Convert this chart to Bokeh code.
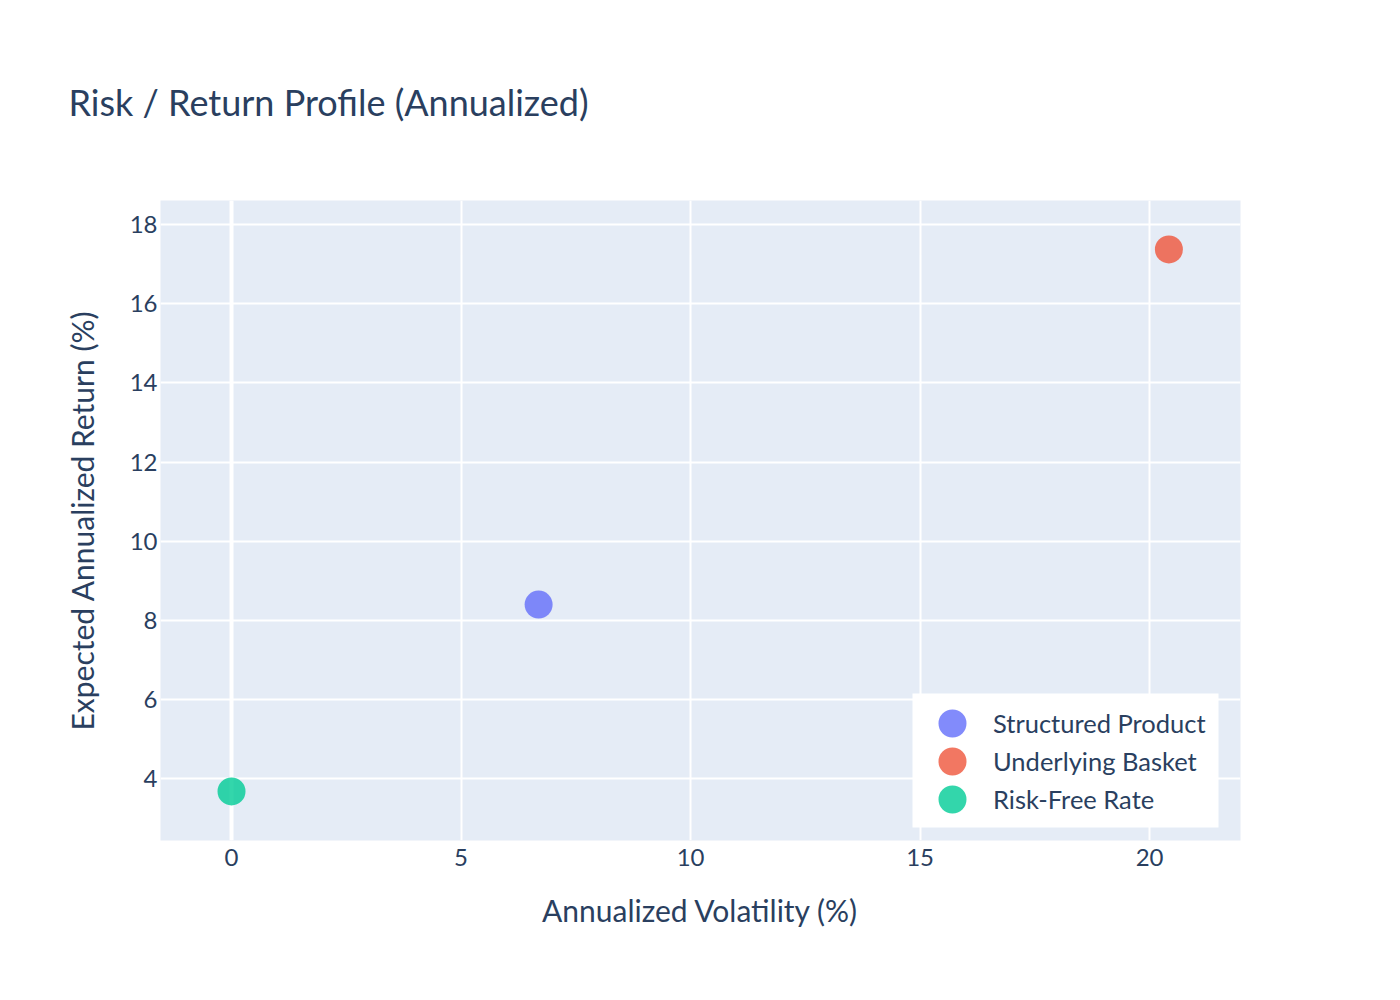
from bokeh.plotting import figure
from bokeh.models import (ColumnDataSource, Range1d, SingleIntervalTicker, Span, Title,
                          Legend, LegendItem, BoxAnnotation)
from bokeh.embed import file_html
from bokeh.resources import INLINE

# data
names = ["Structured Product", "Underlying Basket", "Risk-Free Rate"]
volatility = [6.69, 20.42, 0.0]
returns = [8.40, 17.37, 3.68]
colors = ["#636efa", "#EF553B", "#00cc96"]

FONT = "Lato"
TEXT = "#2a3f5f"

p = figure(width=1384, height=984,
           x_range=Range1d(-1.547, 21.98), y_range=Range1d(2.44, 18.607),
           output_backend="svg", toolbar_location=None, tools="",
           min_border_left=160, min_border_right=144,
           min_border_top=200, min_border_bottom=144)

p.background_fill_color = "#e5ecf6"
p.border_fill_color = "white"
p.outline_line_color = None

# the title sits centred in a panel of standoff + text height; keep it within the top border
t = Title(text="Risk / Return Profile (Annualized)", text_font=FONT,
          text_font_size="36px", text_font_style="normal", text_color=TEXT,
          align="left", offset=-92, standoff=154)
p.add_layout(t, "above")

items = []
for i in range(len(names)):
    src = ColumnDataSource(dict(x=[volatility[i]], y=[returns[i]]))
    r = p.scatter("x", "y", source=src, size=28, fill_color=colors[i],
                  fill_alpha=0.8, line_color=None)
    items.append(LegendItem(label=names[i], renderers=[r]))

# zeroline on x
p.add_layout(Span(location=0, dimension="height", line_color="white", line_width=4, level="underlay"))

p.xaxis.ticker = SingleIntervalTicker(interval=5)
p.yaxis.ticker = SingleIntervalTicker(interval=2)
p.grid.grid_line_color = "white"
p.grid.grid_line_width = 2

for ax in (p.xaxis, p.yaxis):
    ax.axis_line_color = None
    ax.major_tick_line_color = None
    ax.minor_tick_line_color = None
    ax.major_tick_out = 0
    ax.major_tick_in = 0
    ax.minor_tick_out = 0
    ax.major_label_text_font = FONT
    ax.major_label_text_font_size = "24px"
    ax.major_label_text_color = TEXT
    ax.axis_label_text_font = FONT
    ax.axis_label_text_font_size = "30px"
    ax.axis_label_text_font_style = "normal"
    ax.axis_label_text_color = TEXT

p.xaxis.axis_label = "Annualized Volatility (%)"
p.yaxis.axis_label = "Expected Annualized Return (%)"
p.xaxis.major_label_standoff = 8
p.xaxis.axis_label_standoff = 23
p.yaxis.major_label_standoff = 3
p.yaxis.axis_label_standoff = 27

# white block behind the legend rows (frame-relative pixels)
p.add_layout(BoxAnnotation(left=752, right=1058, bottom=13, top=147,
                           left_units="screen", right_units="screen",
                           bottom_units="screen", top_units="screen",
                           fill_color="white", fill_alpha=1.0, line_color=None))

# one legend per row so the rows can sit closer than the legend glyph box
legend_y = [82, 44, 6]
for i in range(len(items)):
    lg = Legend(items=[items[i]], location=(752, legend_y[i]),
                glyph_width=80, glyph_height=70, spacing=0, padding=0,
                label_standoff=1, label_text_font=FONT, label_text_font_size="25.5px",
                label_text_color=TEXT, background_fill_color=None,
                background_fill_alpha=0.0, border_line_color=None)
    p.add_layout(lg, "center")

open("out.html", "w").write(file_html(p, INLINE))
